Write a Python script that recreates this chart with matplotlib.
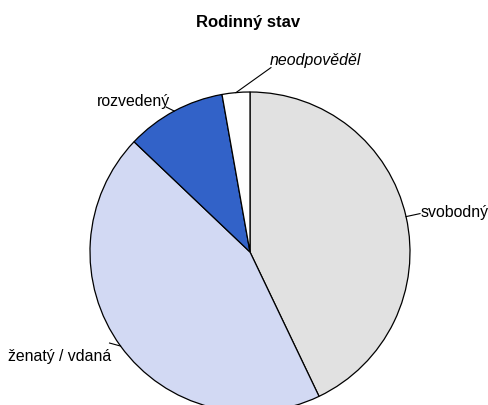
import numpy as np
import matplotlib
import matplotlib.pyplot as plt

matplotlib.rcParams['font.family'] = ['Liberation Sans', 'DejaVu Sans']

# data (share in %, clockwise from 12 o'clock)
labels = ['svobodný', 'ženatý / vdaná', 'rozvedený', 'neodpověděl']
values = [42.9, 44.2, 10.1, 2.8]
colors = ['#e1e1e1', '#d2d9f3', '#3262c8', '#ffffff']
italic = [False, False, False, True]

fig = plt.figure(figsize=(4.89, 4.05), dpi=100)
ax = fig.add_axes([0, 0, 1, 1])

wedges, _ = ax.pie(values, startangle=90, counterclock=False, colors=colors,
                   radius=1.0, center=(0, 0),
                   wedgeprops=dict(edgecolor='black', linewidth=0.9))

# leader line offsets (px) and text placement
R = 160.0
lead = [(14, 3), (-11, 3), (-8, 4), (35, 25)]
txt = [(1, 1, 'left', 'center'), (2, -13, 'right', 'center'),
       (4, 6, 'right', 'center'), (-1, 7, 'left', 'center')]

for w, lab, (dx, dy), (tx, ty, ha, va), it in zip(wedges, labels, lead, txt, italic):
    ang = np.deg2rad((w.theta1 + w.theta2) / 2)
    x0, y0 = np.cos(ang), np.sin(ang)
    x1, y1 = x0 + dx / R, y0 + dy / R
    ax.plot([x0, x1], [y0, y1], color='black', lw=0.8)
    ax.text(x1 + tx / R, y1 + ty / R, lab, ha=ha, va=va, fontsize=11.4,
            style='italic' if it else 'normal')

ax.set_xlim(-250 / R, (489 - 250) / R)
ax.set_ylim((252 - 405) / R, 252 / R)
ax.set_aspect('auto')
ax.axis('off')

fig.text(0.508, 1 - 22.5 / 405, 'Rodinný stav', ha='center', va='center',
         fontsize=12, fontweight='bold')

fig.savefig('out.png', dpi=100)
